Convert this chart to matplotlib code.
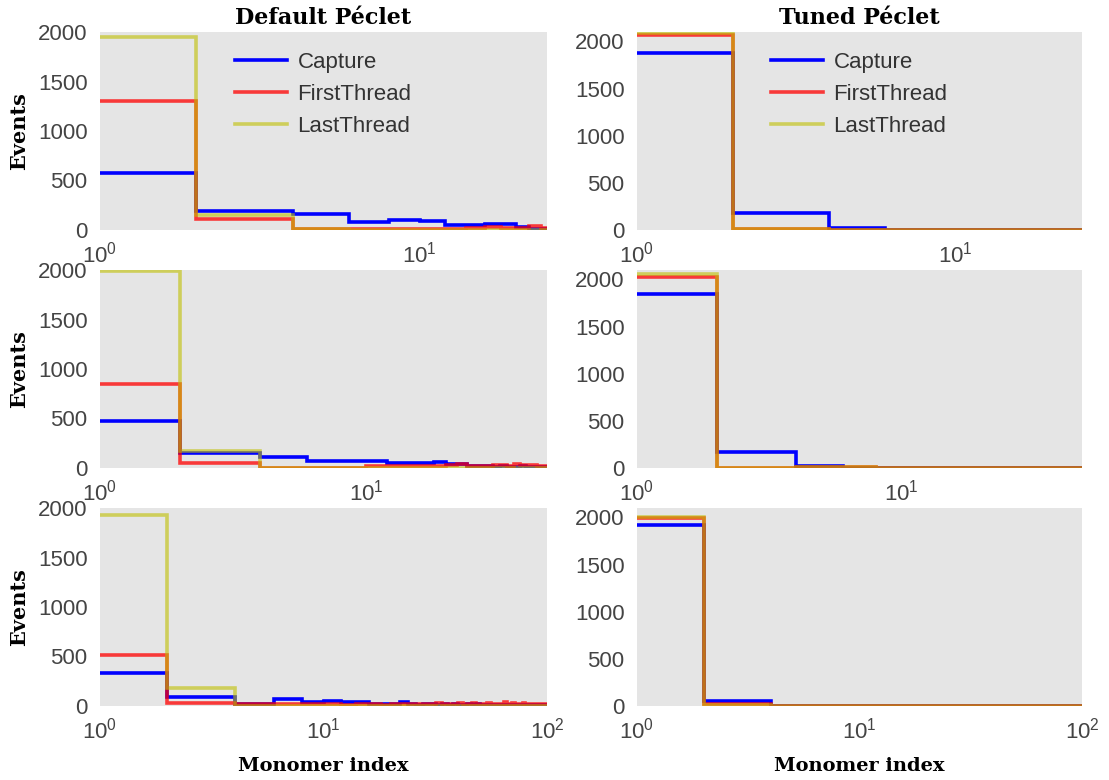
import numpy as np
import matplotlib
matplotlib.use("Agg")
import matplotlib.pyplot as plt

plt.rcParams['font.family'] = ['Liberation Sans', 'DejaVu Sans']
plt.rcParams['mathtext.default'] = 'regular'

# ---------------- data (histogram counts, bins of width 2 starting at 0) ----------------
series_names = ["Capture", "FirstThread", "LastThread"]
column_titles = ["Default Péclet", "Tuned Péclet"]
bin_width = 2

# Row 1
cap_default_1 = [580, 195, 164, 79, 99, 89, 51, 51, 58, 58, 27, 14, 10]
first_default_1 = [1305, 113, 15, 12, 14, 12, 14, 16, 31, 24, 17, 38, 20]
last_default_1 = [1950, 147, 6, 4, 4, 3, 3, 2, 2, 2, 2, 2, 1]

cap_tuned_1 = [1880, 184, 16, 3, 2, 1, 1, 0, 0, 0, 0, 0, 0]
first_tuned_1 = [2064, 12, 2, 1, 0, 0, 0, 0, 0, 0, 0, 0, 0]
last_tuned_1 = [2090, 6, 1, 0, 0, 0, 0, 0, 0, 0, 0, 0, 0]

# Row 2
cap_default_2 = [477, 150, 116, 72, 72, 72, 55, 55, 48, 65, 38, 38, 24, 24,
                 18, 15, 20, 14, 12, 16, 10, 12, 9, 11]
first_default_2 = [844, 48, 5, 5, 5, 20, 20, 20, 20, 20, 31, 38, 20, 20,
                   20, 28, 35, 25, 40, 30, 26, 34, 22, 25]
last_default_2 = [1990, 170, 4, 3, 3, 2, 2, 2, 2, 2, 1, 1, 1, 1,
                  1, 1, 1, 1, 1, 1, 1, 1, 1, 1]

cap_tuned_2 = [1848, 166, 25, 5, 2, 1, 0, 0, 0, 0, 0, 0, 0, 0,
               0, 0, 0, 0, 0, 0, 0, 0, 0, 0]
first_tuned_2 = [2028, 5, 8, 8, 1, 0, 0, 0, 0, 0, 0, 0, 0, 0,
                 0, 0, 0, 0, 0, 0, 0, 0, 0, 0]
last_tuned_2 = [2053, 3, 6, 6, 1, 0, 0, 0, 0, 0, 0, 0, 0, 0,
                0, 0, 0, 0, 0, 0, 0, 0, 0, 0]

# Row 3
cap_default_3 = [337, 88, 20, 67, 44, 54, 37, 37, 24, 24, 24, 37, 20, 15,
                 20, 25, 14, 18, 12, 20, 15, 10, 18, 12, 16, 10, 14, 9,
                 12, 15, 10, 8, 13, 9, 11, 8, 12, 10, 7, 9, 10, 8, 11,
                 7, 9, 10, 8, 9, 7, 8]
first_default_3 = [516, 27, 20, 17, 17, 17, 15, 18, 20, 15, 22, 18, 25, 20,
                   17, 22, 28, 20, 24, 18, 30, 22, 20, 26, 18, 24, 22, 30,
                   20, 25, 19, 23, 44, 22, 20, 26, 18, 24, 21, 28, 20, 22,
                   25, 18, 24, 20, 22, 18, 21, 20]
last_default_3 = [1932, 179, 2, 2, 1, 1, 1, 1, 1, 1, 1, 1, 1, 1,
                  1, 1, 1, 1, 1, 1, 1, 1, 1, 1, 1, 1, 1, 1,
                  1, 1, 1, 1, 1, 1, 1, 1, 1, 1, 1, 1, 1, 1,
                  1, 1, 1, 1, 1, 1, 1, 1]

cap_tuned_3 = [1922, 57, 2] + [0] * 47
first_tuned_3 = [1990, 18, 0] + [0] * 47
last_tuned_3 = [2000, 10, 0] + [0] * 47

panels = [
    [(cap_default_1, first_default_1, last_default_1), (cap_tuned_1, first_tuned_1, last_tuned_1)],
    [(cap_default_2, first_default_2, last_default_2), (cap_tuned_2, first_tuned_2, last_tuned_2)],
    [(cap_default_3, first_default_3, last_default_3), (cap_tuned_3, first_tuned_3, last_tuned_3)],
]
x_max = [25, 48, 100]
y_max = [[2000, 2100], [2000, 2100], [2000, 2100]]

colors = ["#0000FF", (1.0, 0.0, 0.0, 0.75), (0.75, 0.75, 0.0, 0.6)]

# ---------------- figure ----------------
W, H = 1109, 780
fig = plt.figure(figsize=(W / 100, H / 100), dpi=100)

col_x = [100 / W, 637 / W]
col_w = [447 / W, 445 / W]
row_bottom_px = [230, 468, 706]
row_h = 198 / H

serif_bold = dict(family='DejaVu Serif', fontweight='bold')

for r in range(3):
    for c in range(2):
        ax = fig.add_axes([col_x[c], 1 - row_bottom_px[r] / H, col_w[c], row_h])
        ax.set_facecolor('#E5E5E5')
        for s in ax.spines.values():
            s.set_visible(False)
        data = panels[r][c]
        for name, counts, col in zip(series_names, data, colors):
            counts = np.asarray(counts, dtype=float)
            edges = np.arange(len(counts) + 1) * bin_width
            ax.stairs(counts, edges, color=col, linewidth=2.6, label=name,
                      baseline=None)
        ax.set_xscale('log')
        ax.set_xlim(1, x_max[r])
        ax.set_ylim(0, y_max[r][c])
        ax.set_yticks([0, 500, 1000, 1500, 2000])
        ax.tick_params(length=0, labelsize=16, colors='#444444')
        ax.tick_params(axis='y', pad=9)
        ax.tick_params(axis='x', pad=8)
        ax.tick_params(axis='x', which='minor', length=0)
        ax.grid(False)
        if r == 0:
            ax.set_title(column_titles[c], fontsize=16, pad=6, **serif_bold)
            leg = ax.legend(loc='upper center', frameon=False, fontsize=16,
                            handlelength=2.3, handletextpad=0.5, labelspacing=0.5,
                            bbox_to_anchor=(0.5, 1.0), borderaxespad=0.5)
            for t in leg.get_texts():
                t.set_color('#333333')
        if c == 0:
            ax.set_ylabel('Events', fontsize=15, labelpad=6, **serif_bold)
        if r == 2:
            ax.set_xlabel('Monomer index', fontsize=14, labelpad=10, **serif_bold)

fig.savefig('out.png', dpi=100)
